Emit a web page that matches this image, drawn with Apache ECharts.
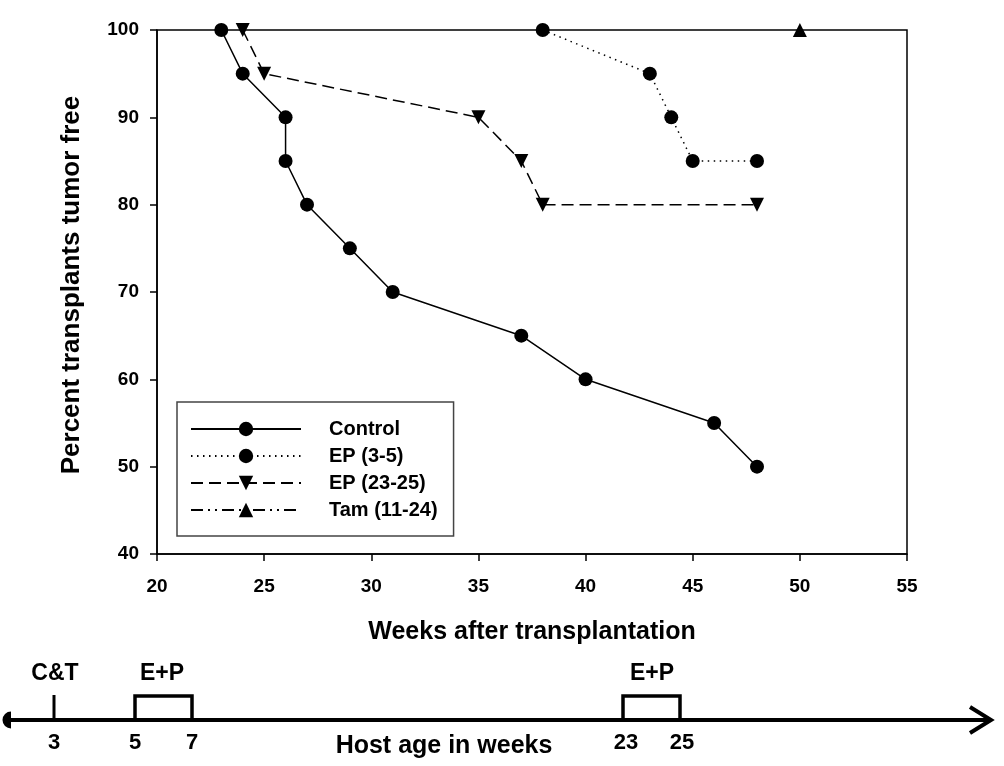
<!DOCTYPE html>
<html>
<head>
<meta charset="utf-8">
<script src="https://cdn.jsdelivr.net/npm/echarts@6/dist/echarts.min.js"></script>
<style>
html,body{margin:0;padding:0;background:#fff;}
#chart{width:1004px;height:766px;}
</style>
</head>
<body>
<div id="chart"></div>
<script>
// Data
var controlData = [[23,100],[24,95],[26,90],[26,85],[27,80],[29,75],[31,70],[37,65],[40,60],[46,55],[48,50]];
var ep35Data = [[38,100],[43,95],[44,90],[45,85],[48,85]];
var ep2325Data = [[24,100],[25,95],[35,90],[37,85],[38,80],[48,80]];
var tamData = [[50,100]];
var seriesNames = ['Control','EP (3-5)','EP (23-25)','Tam (11-24)'];
var xTitle = 'Weeks after transplantation';
var yTitle = 'Percent transplants tumor free';
var timelineEvents = ['C&T','E+P','E+P'];
var timelineTicks = ['3','5','7','23','25'];
var timelineTitle = 'Host age in weeks';

var FONT = 'Liberation Sans, Arial, sans-serif';
var downTri = 'path://M0,0 L10,0 L5,9 Z';
var upTri = 'path://M5,0 L10,9 L0,9 Z';

var chart = echarts.init(document.getElementById('chart'), null, {renderer:'canvas'});

function mkSeries(name, data, symbol, size, ltype){
  return {
    name: name, type: 'line', data: data,
    symbol: symbol, symbolSize: size, showSymbol: true,
    itemStyle: {color:'#000'},
    lineStyle: {color:'#000', width:1.5, type: ltype},
    emphasis: {disabled:true},
    animation: false, z: 3
  };
}

var tlY = 720;
var boldTxt = function(x, y, t, size, align){
  return {type:'text', x:x, y:y, style:{text:t, fill:'#000', font:'bold '+size+'px '+FONT, textAlign:align||'center', textVerticalAlign:'middle'}};
};

var option = {
  backgroundColor:'#fff',
  animation:false,
  grid:{left:157, right:97, top:30, bottom:212, show:true, borderColor:'#000', borderWidth:1.5, backgroundColor:'transparent'},
  xAxis:{
    type:'value', min:20, max:55, interval:5,
    name: xTitle, nameLocation:'middle', nameGap:66,
    nameTextStyle:{fontFamily:FONT, fontWeight:'bold', fontSize:25, color:'#000'},
    axisLine:{show:true, lineStyle:{color:'#000', width:1.5}},
    axisTick:{show:true, inside:false, length:7, lineStyle:{color:'#000', width:1.5}},
    axisLabel:{fontFamily:FONT, fontWeight:'bold', fontSize:19, color:'#000', margin:23},
    splitLine:{show:false}
  },
  yAxis:{
    type:'value', min:40, max:100, interval:10,
    name: yTitle, nameLocation:'middle', nameGap:72,
    nameTextStyle:{fontFamily:FONT, fontWeight:'bold', fontSize:26, color:'#000', padding:[0,0,0,14]},
    axisLine:{show:true, lineStyle:{color:'#000', width:1.5}},
    axisTick:{show:true, inside:false, length:7, lineStyle:{color:'#000', width:1.5}},
    axisLabel:{fontFamily:FONT, fontWeight:'bold', fontSize:19, color:'#000', margin:18},
    splitLine:{show:false}
  },
  legend:{
    data: seriesNames,
    orient:'vertical', left:177, top:402,
    itemWidth:110, itemHeight:18, itemGap:7,
    padding:[17,16,16,13],
    borderColor:'#444', borderWidth:1.5,
    textStyle:{fontFamily:FONT, fontWeight:'bold', fontSize:20, color:'#000', padding:[0,0,0,23]},
    selectedMode:false
  },
  series:[
    mkSeries(seriesNames[0], controlData, 'circle', 14, 'solid'),
    mkSeries(seriesNames[1], ep35Data, 'circle', 14, [1.5,4.5]),
    mkSeries(seriesNames[2], ep2325Data, downTri, 14, [12,6]),
    mkSeries(seriesNames[3], tamData, upTri, 14, [12,5,2,5,2,5])
  ],
  graphic:[
    {type:'line', shape:{x1:10, y1:tlY, x2:990, y2:tlY}, style:{stroke:'#000', lineWidth:4}},
    {type:'sector', shape:{cx:11, cy:tlY, r0:0, r:8.5, startAngle:Math.PI/2, endAngle:Math.PI*3/2}, style:{fill:'#000'}},
    {type:'polyline', shape:{points:[[970,707],[991,tlY],[970,733]]}, style:{stroke:'#000', lineWidth:4, fill:null}},
    {type:'line', shape:{x1:54, y1:695, x2:54, y2:tlY}, style:{stroke:'#000', lineWidth:3}},
    {type:'polyline', shape:{points:[[135,tlY],[135,696],[192,696],[192,tlY]]}, style:{stroke:'#000', lineWidth:3.5, fill:null}},
    {type:'polyline', shape:{points:[[623,tlY],[623,696],[680,696],[680,tlY]]}, style:{stroke:'#000', lineWidth:3.5, fill:null}},
    boldTxt(55, 674, timelineEvents[0], 23),
    boldTxt(162, 674, timelineEvents[1], 23),
    boldTxt(652, 674, timelineEvents[2], 23),
    boldTxt(54, 743, timelineTicks[0], 22),
    boldTxt(135, 743, timelineTicks[1], 22),
    boldTxt(192, 743, timelineTicks[2], 22),
    boldTxt(626, 743, timelineTicks[3], 22),
    boldTxt(682, 743, timelineTicks[4], 22),
    boldTxt(444, 746, timelineTitle, 25)
  ]
};
chart.setOption(option);
</script>
</body>
</html>
